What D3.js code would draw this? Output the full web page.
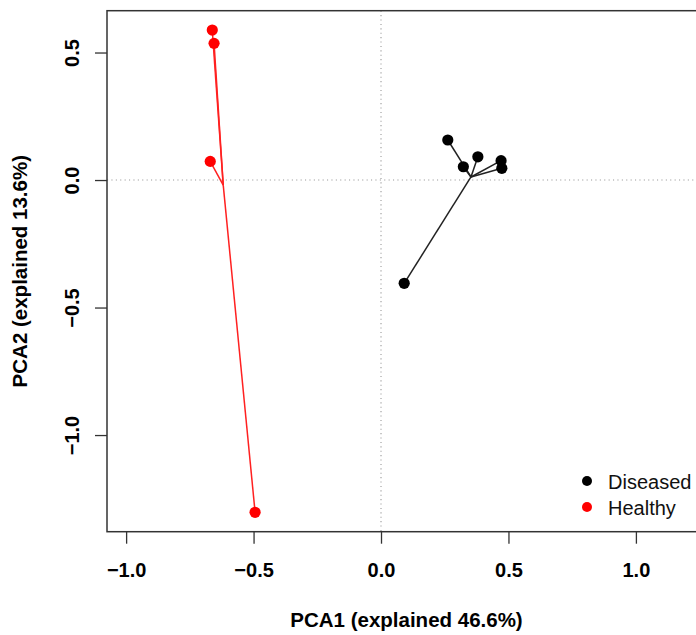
<!DOCTYPE html>
<html>
<head>
<meta charset="utf-8">
<script src="https://cdn.jsdelivr.net/npm/d3@7"></script>
<style>
  body { margin: 0; background: #fff; }
  svg { display: block; }
  .tick text { font-family: "Liberation Sans", Arial, sans-serif; font-weight: bold; font-size: 20px; fill: #000; }
  .tick line { stroke: #333; stroke-width: 1.3; }
</style>
</head>
<body>
<script>
//chart values
var groups = ["Diseased", "Healthy"];
var groupColors = ["#000000", "#ff0000"];
var pc1 = [0.262, 0.323, 0.380, 0.471, 0.474, 0.091, -0.662, -0.655, -0.670, -0.494];
var pc2 = [0.157, 0.052, 0.091, 0.076, 0.046, -0.405, 0.588, 0.536, 0.073, -1.303];
var sampleGroup = ["Diseased", "Diseased", "Diseased", "Diseased", "Diseased", "Diseased",
                   "Healthy", "Healthy", "Healthy", "Healthy"];
//group centres (spider hubs)
var centreX = [0.353, -0.619];
var centreY = [0.012, -0.020];
var xTicks = [-1.0, -0.5, 0.0, 0.5, 1.0];
var yTicks = [-1.0, -0.5, 0.0, 0.5];
var xLabel = "PCA1 (explained 46.6%)";
var yLabel = "PCA2 (explained 13.6%)";

var width = 696, height = 635;
var plot = {left: 107, right: 706, top: 10.7, bottom: 531.7};

var svg = d3.select("body").append("svg")
    .attr("width", width)
    .attr("height", height);

//R style axis limits (data range padded 4%)
var x = d3.scaleLinear().domain([-1.075, 1.275]).range([plot.left, plot.right]);
var y = d3.scaleLinear().domain([-1.379, 0.664]).range([plot.bottom, plot.top]);

var font = "'Liberation Sans', Arial, sans-serif";

//dotted zero lines
svg.append("line")
    .attr("x1", plot.left).attr("x2", plot.right)
    .attr("y1", y(0)).attr("y2", y(0))
    .attr("stroke", "#999").attr("stroke-width", 1.1)
    .attr("stroke-dasharray", "1.1,3.3");
svg.append("line")
    .attr("x1", x(0)).attr("x2", x(0))
    .attr("y1", plot.top).attr("y2", plot.bottom)
    .attr("stroke", "#999").attr("stroke-width", 1.1)
    .attr("stroke-dasharray", "1.1,3.3");

//spider lines from group centre to every sample
var samples = pc1.map(function(v, i){
    return {x: v, y: pc2[i], g: sampleGroup[i]};
});

svg.selectAll(".spider")
    .data(samples)
    .enter()
    .append("line")
    .attr("class", "spider")
    .attr("x1", function(d){ return x(centreX[groups.indexOf(d.g)]); })
    .attr("y1", function(d){ return y(centreY[groups.indexOf(d.g)]); })
    .attr("x2", function(d){ return x(d.x); })
    .attr("y2", function(d){ return y(d.y); })
    .attr("stroke", function(d){ return d.g == "Healthy" ? "#ff2020" : "#222"; })
    .attr("stroke-width", 1.5);

svg.selectAll(".pt")
    .data(samples)
    .enter()
    .append("circle")
    .attr("class", "pt")
    .attr("cx", function(d){ return x(d.x); })
    .attr("cy", function(d){ return y(d.y); })
    .attr("r", 5.6)
    .attr("fill", function(d){ return groupColors[groups.indexOf(d.g)]; });

//box
svg.append("rect")
    .attr("x", plot.left).attr("y", plot.top)
    .attr("width", plot.right - plot.left)
    .attr("height", plot.bottom - plot.top)
    .attr("fill", "none")
    .attr("stroke", "#333")
    .attr("stroke-width", 1.5);

//x axis
var xAxis = svg.append("g")
    .attr("transform", "translate(0," + plot.bottom + ")")
    .call(d3.axisBottom(x).tickValues(xTicks).tickSize(12).tickFormat(d3.format(".1f")));
xAxis.select(".domain").remove();
xAxis.selectAll("text").attr("y", 45).attr("dy", 0);

//y axis, labels parallel to axis
var yAxis = svg.append("g")
    .attr("transform", "translate(" + plot.left + ",0)")
    .call(d3.axisLeft(y).tickValues(yTicks).tickSize(12).tickFormat(d3.format(".1f")));
yAxis.select(".domain").remove();
yAxis.selectAll("text")
    .attr("x", 0).attr("y", 0).attr("dy", 0)
    .attr("text-anchor", "middle")
    .attr("transform", "translate(-28,0) rotate(-90)");

//axis titles
svg.append("text")
    .attr("x", (plot.left + plot.right) / 2)
    .attr("y", 627)
    .attr("text-anchor", "middle")
    .style("font-family", font).style("font-weight", "bold").style("font-size", "20.5px")
    .text(xLabel);

svg.append("text")
    .attr("transform", "translate(27," + ((plot.top + plot.bottom) / 2) + ") rotate(-90)")
    .attr("text-anchor", "middle")
    .style("font-family", font).style("font-weight", "bold").style("font-size", "20.5px")
    .text(yLabel);

//legend
var legend = svg.selectAll(".legend")
    .data(groups)
    .enter()
    .append("g")
    .attr("class", "legend")
    .attr("transform", function(d, i){ return "translate(587," + (481 + i * 26) + ")"; });

legend.append("circle")
    .attr("r", 5)
    .attr("fill", function(d, i){ return groupColors[i]; });

legend.append("text")
    .attr("x", 21)
    .attr("y", 7.5)
    .style("font-family", font).style("font-size", "20px")
    .attr("fill", "#111")
    .text(function(d){ return d; });
</script>
</body>
</html>
